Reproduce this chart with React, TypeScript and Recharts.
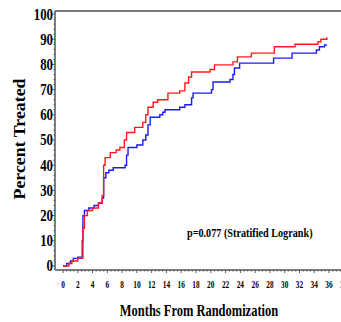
import React from "react";
import { LineChart, Line, XAxis, YAxis, ReferenceLine } from "recharts";

const monthsBlue = [0, 0.5, 1.0, 1.4, 2.0, 2.6, 2.7, 2.9, 3.5, 4.2, 4.8, 5.3, 5.5, 5.8, 6.2, 6.8, 8.4, 8.6, 8.8, 10.0, 10.8, 11.2, 11.5, 11.8, 13.1, 13.5, 13.8, 15.8, 16.5, 17.4, 17.6, 20.1, 20.3, 22.6, 23.0, 23.2, 23.9, 28.5, 31.0, 34.3, 34.7, 35.4, 35.7];
const pctBlue = [0, 1, 2, 3, 3.5, 10, 20, 22, 23, 24, 25, 27, 35, 37, 38, 39, 40, 44, 47, 48, 50, 52, 56, 59, 60, 61, 62, 63, 64, 66.7, 68.6, 70, 73, 74, 76, 78.6, 80.5, 82.5, 84.5, 85.7, 87, 87.7, 87.7];

const monthsRed = [0, 0.8, 1.2, 2.0, 2.6, 2.7, 2.9, 3.3, 4.0, 4.8, 5.3, 5.5, 5.7, 6.4, 7.2, 7.7, 8.3, 8.6, 9.7, 10.8, 11.2, 11.5, 12.2, 12.8, 14.2, 15.8, 16.5, 17.0, 17.4, 19.9, 20.5, 23.0, 23.6, 25.5, 28.6, 31.4, 34.5, 34.9, 35.7, 35.8];
const pctRed = [0, 1, 2, 3, 3, 15, 20, 22, 23, 25, 28, 40, 43, 45, 46, 47, 50, 53, 55, 57, 60, 63, 65, 66, 68.6, 69.5, 72.6, 75, 77, 78, 79.8, 81, 83, 84.5, 87, 88, 89, 90, 90.5, 90.5];

const yTickLabels = [0, 10, 20, 30, 40, 50, 60, 70, 80, 90, 100];
const xTickLabels = [0, 2, 4, 6, 8, 10, 12, 14, 16, 18, 20, 22, 24, 26, 28, 30, 32, 34, 36, 38];

const blueData = monthsBlue.map((m, i) => ({ m, v: pctBlue[i] }));
const redData = monthsRed.map((m, i) => ({ m, v: pctRed[i] }));

const yTicks: number[] = [];
for (let v = 0; v <= 100; v += 2) yTicks.push(v);
const xTicks: number[] = [];
for (let m = 0; m <= 38.5; m += 0.5) xTicks.push(m);

const FONT = "'Liberation Serif', 'Times New Roman', serif";
const AXIS = "#555";

const YTick = (props: any) => {
  const { x, y, payload } = props;
  const v = payload.value;
  const major = yTickLabels.includes(v);
  return (
    <g>
      <line x1={x - (major ? 3 : 1.5)} x2={x} y1={y} y2={y} stroke={AXIS} strokeWidth={1} />
      {major && (
        <text
          transform={`translate(${x - 2},${y + 5.5}) scale(0.8,1)`}
          textAnchor="end"
          fontFamily={FONT}
          fontWeight="bold"
          fontSize={16}
          fill="#000"
        >
          {v}
        </text>
      )}
    </g>
  );
};

const XTick = (props: any) => {
  const { x, y, payload } = props;
  const v = payload.value;
  const major = xTickLabels.includes(v);
  return (
    <g>
      <line x1={x} x2={x} y1={y} y2={y + (major ? 3 : 1.5)} stroke={AXIS} strokeWidth={1} />
      {major && (
        <text
          transform={`translate(${x},${y + 18}) scale(0.7,1)`}
          textAnchor="middle"
          fontFamily={FONT}
          fontWeight="bold"
          fontSize={10.5}
          fill="#000"
        >
          {v}
        </text>
      )}
    </g>
  );
};

export default function App() {
  return (
    <div style={{ position: "absolute", left: 0, top: 0, width: 341, height: 322, overflow: "hidden", background: "#fff" }}>
      <LineChart width={360} height={322} margin={{ top: 11, right: 10, bottom: 0, left: 0 }}>
        <XAxis
          dataKey="m"
          type="number"
          domain={[-1.083, 38.84]}
          ticks={xTicks}
          interval={0}
          tickSize={0}
          tickMargin={0}
          tickLine={false}
          tick={<XTick />}
          height={52}
          stroke={AXIS}
          strokeWidth={1.5}
          allowDataOverflow
        />
        <YAxis
          type="number"
          domain={[-1.6, 101.2]}
          ticks={yTicks}
          interval={0}
          tickSize={0}
          tickMargin={0}
          tickLine={false}
          tick={<YTick />}
          width={55}
          stroke={AXIS}
          strokeWidth={1.5}
          allowDataOverflow
        />
        <ReferenceLine y={101.2} stroke="#777" strokeWidth={2} ifOverflow="visible" />
        <Line data={blueData} dataKey="v" type="stepAfter" stroke="#1a1aff" strokeWidth={1.4} dot={false} isAnimationActive={false} />
        <Line data={redData} dataKey="v" type="stepAfter" stroke="#ff1a1a" strokeWidth={1.4} dot={false} isAnimationActive={false} />
      </LineChart>
      <svg width={341} height={322} style={{ position: "absolute", left: 0, top: 0, pointerEvents: "none" }}>
        <text
          transform="translate(25,139) rotate(-90) scale(1.05,1)"
          textAnchor="middle"
          fontFamily={FONT}
          fontWeight="bold"
          fontSize={17}
          fill="#000"
        >
          Percent Treated
        </text>
        <text
          transform="translate(199,316) scale(0.78,1)"
          textAnchor="middle"
          fontFamily={FONT}
          fontWeight="bold"
          fontSize={16}
          fill="#000"
        >
          Months From Randomization
        </text>
        <text
          transform="translate(187,236.5) scale(0.85,1)"
          textAnchor="start"
          fontFamily={FONT}
          fontWeight="bold"
          fontSize={12}
          fill="#000"
        >
          p=0.077 (Stratified Logrank)
        </text>
      </svg>
    </div>
  );
}
